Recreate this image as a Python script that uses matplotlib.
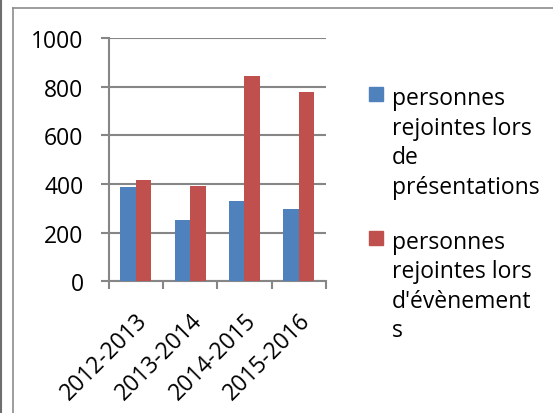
import matplotlib
matplotlib.use("Agg")
import matplotlib.pyplot as plt
import numpy as np
from matplotlib.patches import Rectangle
from matplotlib.lines import Line2D

categories = ["2012-2013", "2013-2014", "2014-2015", "2015-2016"]
presentations = [387, 254, 331, 298]
evenements = [418, 392, 842, 776]
series_labels = ["personnes\nrejointes lors\nde\nprésentations",
                 "personnes\nrejointes lors\nd'évènement\ns"]
colors = ["#4F81BD", "#C0504D"]
yticks = [0, 200, 400, 600, 800, 1000]

W, H = 553, 414
DPI = 100
plt.rcParams['font.family'] = ['Open Sans', 'DejaVu Sans']
FS = 16.5

fig = plt.figure(figsize=(W / DPI, H / DPI), dpi=DPI)

def fx(px):
    return px / W

def fy(py):
    return 1 - py / H

ax = fig.add_axes([fx(108.5), fy(282.3), fx(326) - fx(108.5), fy(39) - fy(282.3)])

x = np.arange(len(categories))
w = 0.285
ax.bar(x - w / 2, presentations, w, color=colors[0], zorder=3)
ax.bar(x + w / 2, evenements, w, color=colors[1], zorder=3)

ax.set_xlim(-0.5, len(categories) - 0.5)
ax.set_ylim(0, 1000)
ax.set_yticks(yticks)
ax.set_yticklabels([str(v) for v in yticks], fontsize=FS)
ax.set_xticks(np.arange(len(categories) + 1) - 0.5, minor=False)
ax.set_xticklabels([])
ax.set_xticks(x, minor=True)
ax.set_xticklabels(categories, minor=True, rotation=45, ha='right',
                   rotation_mode='anchor', fontsize=FS)
ax.tick_params(axis='x', which='minor', length=0, pad=19)
ax.tick_params(axis='x', which='major', length=6, width=1.5, color='#868686', direction='out')
ax.tick_params(axis='y', length=6, width=1.5, color='#868686', direction='out', pad=12)

ax.grid(axis='y', color='#868686', linewidth=1.5, zorder=0)
for s in ['top', 'right']:
    ax.spines[s].set_visible(False)
for s in ['left', 'bottom']:
    ax.spines[s].set_color('#868686')
    ax.spines[s].set_linewidth(1.5)
ax.set_facecolor('none')

# chart frame
fig.add_artist(Line2D([fx(13.3), fx(13.3)], [fy(9.3), 0], color='#8c8c8c', linewidth=1.2))
fig.add_artist(Line2D([fx(13.3), 1], [fy(9.3), fy(9.3)], color='#8c8c8c', linewidth=1.2))
fig.add_artist(Line2D([fx(0.8), fx(0.8)], [1, 0], color='#6e6e6e', linewidth=1.5))

# legend
legend_tops = [88.3, 232]
for lab, col, top in zip(series_labels, colors, legend_tops):
    fig.add_artist(Rectangle((fx(368.5), fy(top + 14)), fx(14.5), fy(top) - fy(top + 14),
                             color=col, transform=fig.transFigure))
    fig.text(fx(391.7), fy(top - 1), lab, fontsize=FS, va='top', ha='left', linespacing=1.3)

fig.savefig("out.png", dpi=DPI)
